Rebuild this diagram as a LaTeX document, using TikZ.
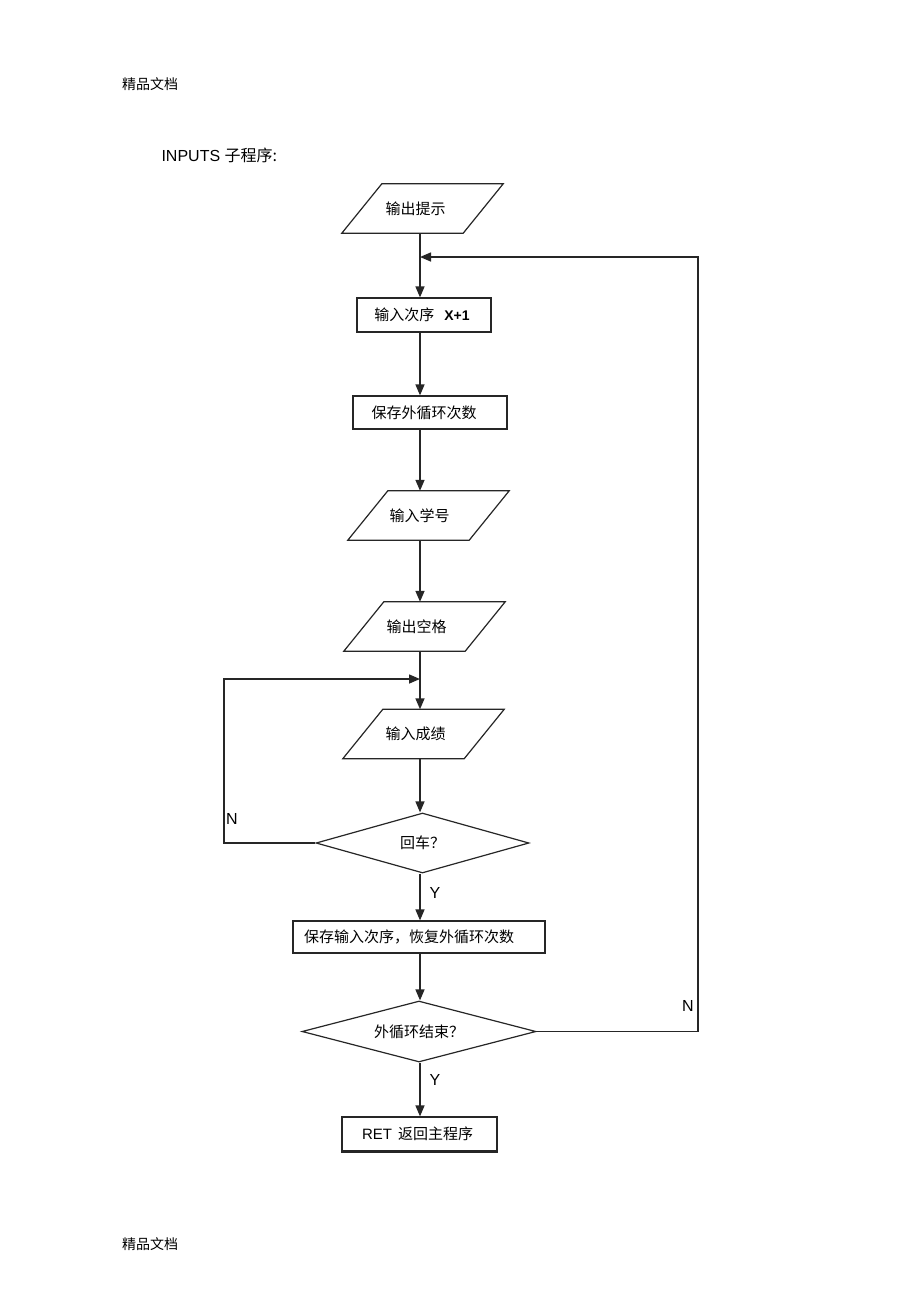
\documentclass[tikz,border=0pt]{standalone}
\usepackage{fontspec}
\setmainfont{Liberation Sans}
\newfontfamily\cjk{Noto Sans CJK SC}
\usetikzlibrary{arrows.meta,shapes.geometric}
\begin{document}
\begin{tikzpicture}[x=1pt,y=-1pt,
  line/.style={draw=black!85, line width=1.5pt},
  arr/.style={line, -{Triangle[length=11pt,width=9pt]}},
  box/.style={draw=black!85, line width=1.2pt, rectangle, inner sep=0pt, font=\cjk\fontsize{15}{17}\selectfont},
  pg/.style={rectangle, inner sep=0pt, minimum height=49pt, minimum width=161pt, font=\cjk\fontsize{15}{17}\selectfont},
  pgline/.style={draw=black!85, line width=1.2pt, line join=miter},
  dia/.style={diamond, shape aspect=3.8, draw=black!85, line width=1.2pt, inner sep=0pt, font=\cjk\fontsize{15}{17}\selectfont},
  lbl/.style={font=\fontsize{16}{18}\selectfont},
  head/.style={font=\cjk\fontsize{14}{16}\selectfont}]
\fill[white] (0,0) rectangle (920,1304);
\useasboundingbox (0,0) rectangle (920,1304);

% headers
\node[head] (h1) at (150,84) {精品文档};
\node[head] (h2) at (150,1244) {精品文档};
\node[anchor=west, font=\fontsize{16}{18}\selectfont] (title) at (158,155) {INPUTS {\cjk 子程序:}};

% nodes
\node[pg] (p1) at (422.5,208.5) {\hspace*{-14pt}输出提示};
\node[box, minimum width=134pt, minimum height=34pt] (b1) at (424,315) {\hspace*{-4pt}输入次序\hspace{10pt}{\fontspec{Liberation Sans}\fontsize{14}{16}\selectfont\bfseries X+1}};
\node[box, minimum width=154pt, minimum height=33pt] (b2) at (430,412.5) {\hspace*{-12pt}保存外循环次数};
\node[pg] (p2) at (428.5,515.5) {\hspace*{-18pt}输入学号};
\node[pg] (p3) at (424.5,626.5) {\hspace*{-16pt}输出空格};
\node[pg] (p4) at (423.5,734) {\hspace*{-16pt}输入成绩};
\node[dia, minimum width=213pt, minimum height=60pt] (d1) at (422.5,843) {回车？};
\node[box, minimum width=252pt, minimum height=32pt] (b3) at (419,937) {\hspace*{-20pt}保存输入次序，恢复外循环次数};
\node[dia, minimum width=234pt, minimum height=61pt] (d2) at (419,1031.5) {外循环结束？};
\node[box, minimum width=155pt, minimum height=34pt] (b4) at (419.5,1134) {\raisebox{-5pt}{\hspace*{-4pt}{\fontspec{Liberation Sans}RET}\hspace{6pt}返回主程序}};
\draw[draw=black!85, line width=1.8pt] (b4.north west) -- (b4.south west) -- (b4.south east);

% parallelogram outlines
\foreach \n in {p1,p2,p3,p4}
  \draw[pgline] ([xshift=40pt]\n.north west) -- (\n.north east) -- ([xshift=-40pt]\n.south east) -- (\n.south west) -- cycle;

% spine
\coordinate (spine) at (420,0);
\coordinate (lc) at (224,679);
\coordinate (rc) at (698,257);

\draw[arr] (p1.south -| spine) -- (b1.north -| spine);
\draw[arr] (b1.south -| spine) -- (b2.north -| spine);
\draw[arr] (b2.south -| spine) -- (p2.north -| spine);
\draw[arr] (p2.south -| spine) -- (p3.north -| spine);
\draw[arr] (p3.south -| spine) -- (p4.north -| spine);
\draw[arr] (p4.south -| spine) -- (d1.north -| spine);
\draw[arr] (d1.south -| spine) -- (b3.north -| spine);
\draw[arr] (b3.south -| spine) -- (d2.north -| spine);
\draw[arr] (d2.south -| spine) -- (b4.north -| spine);

% loops
\draw[arr] (d1.west) -- (d1.west -| lc) -- (lc) -- (lc -| spine);
\draw[arr] (d2.east) -- (d2.east -| rc) -- (rc) -- (rc -| spine);

% labels
\node[lbl] (n1) at (232,819) {N};
\node[lbl] (y1) at (435,893) {Y};
\node[lbl] (n2) at (688,1006) {N};
\node[lbl] (y2) at (435,1080) {Y};
\end{tikzpicture}
\end{document}
